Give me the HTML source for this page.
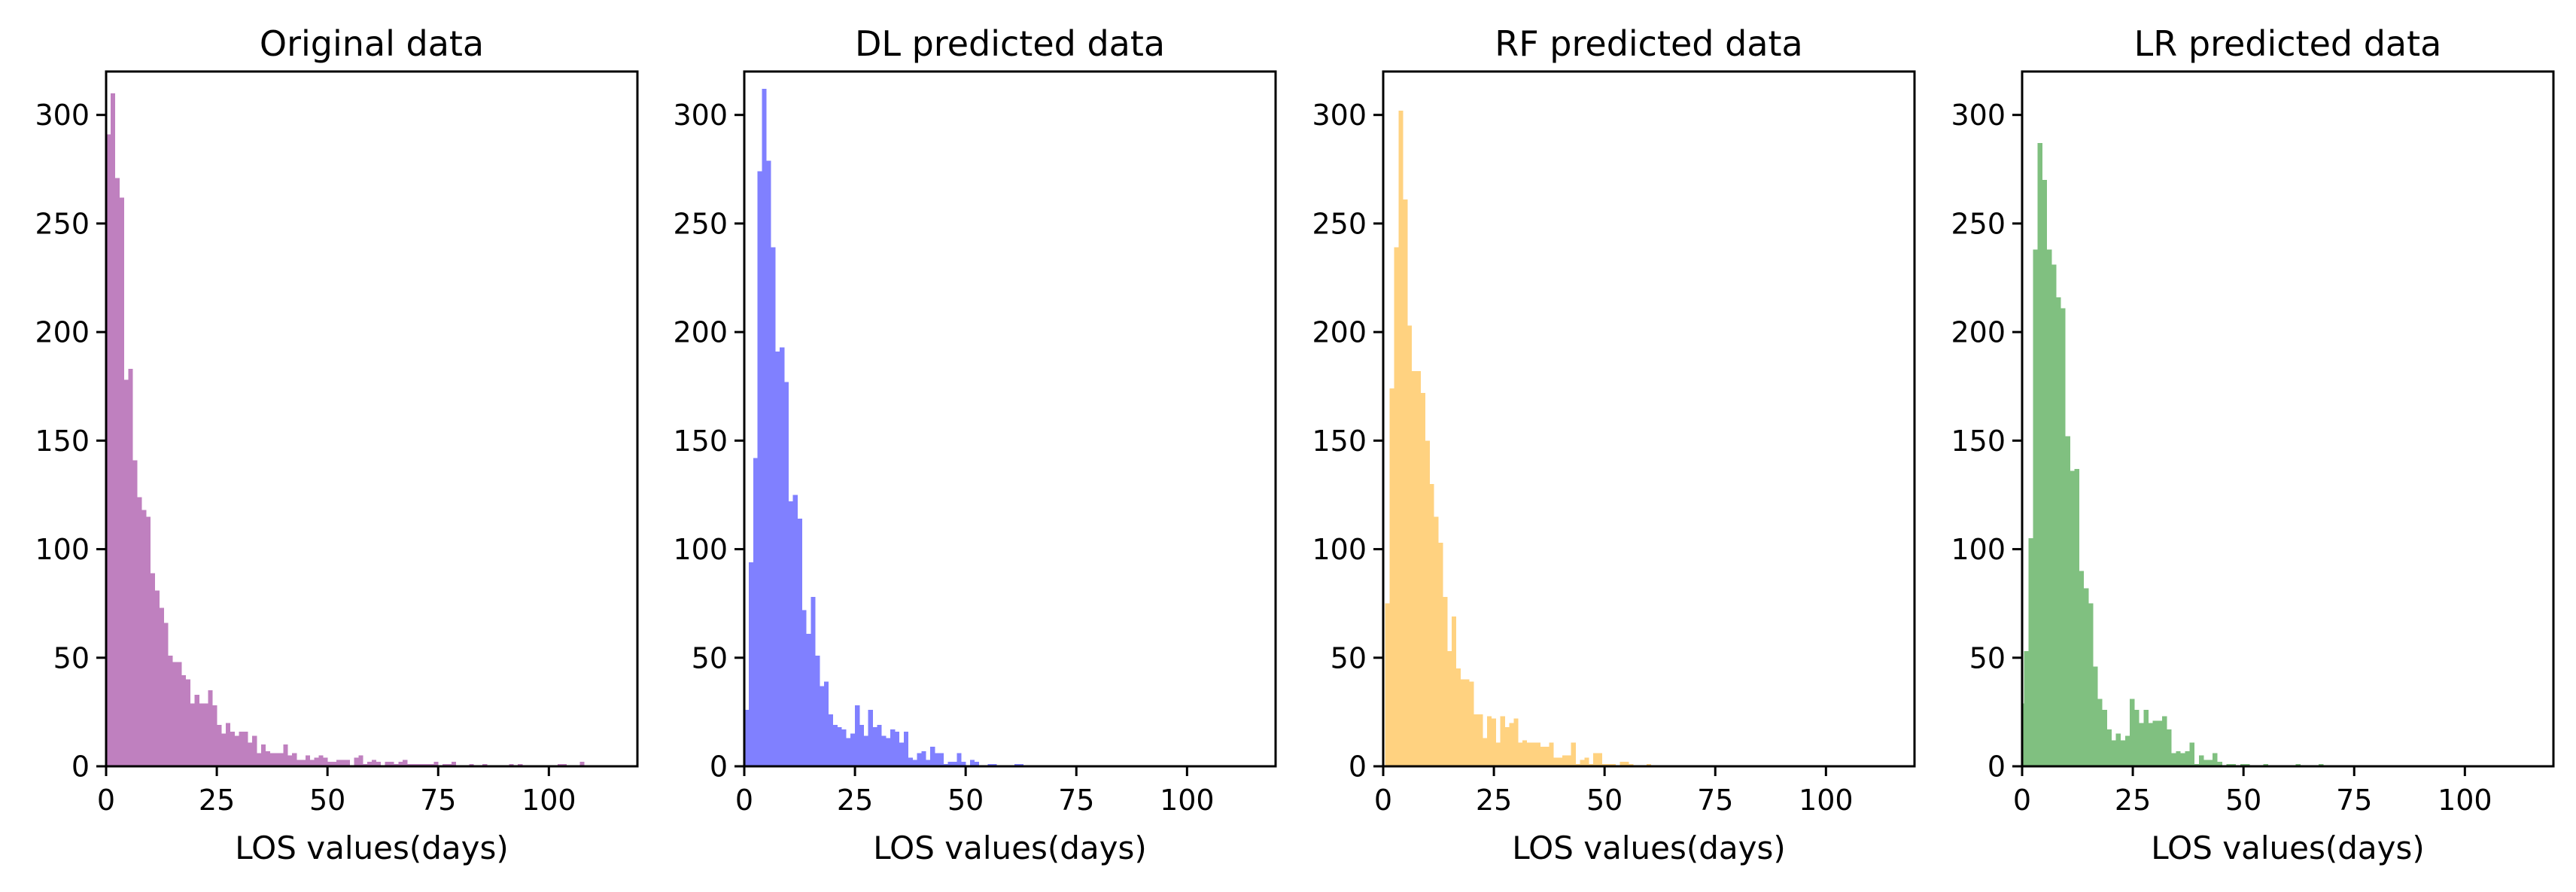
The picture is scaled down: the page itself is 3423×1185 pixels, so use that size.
<!DOCTYPE html>
<html><head><meta charset="utf-8"><style>
html,body{margin:0;padding:0;background:#fff;}
svg text{font-family:"DejaVu Sans","Liberation Sans",sans-serif;fill:#000;}
</style></head><body>
<svg id="fig" width="3423" height="1180" viewBox="0 0 3423 1180" xmlns="http://www.w3.org/2000/svg"></svg>
<script>
const titles = ["Original data","DL predicted data","RF predicted data","LR predicted data"];
const colors = ["#bf80bf","#8080ff","#ffd280","#80c080"];
const binStarts = [0, 0, 0.45, -0.64];
const binWidths = [1, 1, 1, 1.04];
const origCounts = [291,310,271,262,178,183,141,124,118,115,89,81,73,66,51,48,48,42,40,29,33,29,29,35,28,19,15,20,16,14,16,16,11,14,6,10,7,6,6,6,10,5,6,3,3,5,3,4,5,4,2,2,3,3,3,0,4,5,1,2,3,2,0,2,2,1,2,3,1,1,1,1,1,1,2,0,1,1,2,0,0,0,1,0,0,1,0,0,0,0,0,1,0,1,0,0,0,0,0,0,0,0,1,1,0,0,0,2];
const dlCounts = [26,94,142,274,312,279,239,191,193,177,122,125,114,72,61,78,51,37,39,24,19,18,17,13,15,28,19,14,26,18,19,14,13,17,16,11,16,4,3,6,7,3,9,6,6,1,2,2,6,2,0,3,2,0,0,1,1,0,0,0,0,1,1];
const rfCounts = [75,174,239,302,261,203,182,182,172,150,130,115,103,78,53,69,45,40,40,39,24,24,13,23,22,11,23,18,20,22,11,12,11,11,11,9,9,11,4,4,5,5,11,1,3,4,1,6,6,1,1,1,0,2,2,1,0,0,0,1];
const lrCounts = [29,53,105,238,287,270,238,231,216,211,152,136,137,90,82,75,46,31,26,17,12,15,12,14,31,26,20,26,20,21,21,23,17,6,7,6,7,11,1,5,3,3,6,2,0,1,1,0,1,1,0,0,0,1,0,0,0,0,0,0,1,0,0,0,0,1];
const xTicks = [0,25,50,75,100];
const yTicks = [0,50,100,150,200,250,300];
const xMax = 120, yMax = 320;

const NS = "http://www.w3.org/2000/svg";
const svg = document.getElementById('fig');
const allCounts = [origCounts, dlCounts, rfCounts, lrCounts];
const panelLefts = [141, 989, 1838, 2687];
const W = 706, TOP = 95, BOT = 1018, H = BOT - TOP;

function mk(tag, attrs, parent) {
  const e = document.createElementNS(NS, tag);
  for (const k in attrs) e.setAttribute(k, attrs[k]);
  parent.appendChild(e);
  return e;
}

for (let p = 0; p < 4; p++) {
  const L = panelLefts[p];
  const xs = v => L + v / xMax * W;
  const ys = v => BOT - v / yMax * H;
  const g = mk('g', {}, svg);
  
  
  const clip = mk('clipPath', {id: 'clip' + p}, g);
  mk('rect', {x: L, y: TOP, width: W, height: H}, clip);
  const bars = mk('g', {'clip-path': 'url(#clip' + p + ')', 'shape-rendering': 'crispEdges'}, g);
  
  
  const counts = allCounts[p];
  counts.forEach((c, k) => {
    if (c <= 0) return;
    const x0 = xs(binStarts[p] + k * binWidths[p]);
    const x1 = xs(binStarts[p] + (k + 1) * binWidths[p]);
    const r = mk('rect', {x: x0, y: ys(c), width: x1 - x0 + 0.3, height: BOT - ys(c), fill: colors[p]}, bars);
    
    
  });
  const frame = mk('rect', {x: L, y: TOP, width: W, height: H, fill: 'none', stroke: '#000', 'stroke-width': 3}, g);
  
  
  xTicks.forEach(t => {
    const x = xs(t);
    const tk = mk('line', {x1: x, x2: x, y1: BOT, y2: BOT + 13, stroke: '#000', 'stroke-width': 3}, g);
    
    
    const tx = mk('text', {x: x, y: 1076, 'font-size': 38, 'text-anchor': 'middle'}, g);
    tx.textContent = t;
    
    
  });
  yTicks.forEach(t => {
    const y = ys(t);
    const tk = mk('line', {x1: L - 13, x2: L, y1: y, y2: y, stroke: '#000', 'stroke-width': 3}, g);
    
    
    const tx = mk('text', {x: L - 22, y: y + 13.5, 'font-size': 38, 'text-anchor': 'end'}, g);
    tx.textContent = t;
    
    
  });
  const xl = mk('text', {x: L + W / 2, y: 1141, 'font-size': 42, 'text-anchor': 'middle'}, g);
  xl.textContent = 'LOS values(days)';
  
  
  const tt = mk('text', {x: L + W / 2, y: 74, 'font-size': 46, 'text-anchor': 'middle'}, g);
  tt.textContent = titles[p];
  
  
}
</script>
</body></html>
